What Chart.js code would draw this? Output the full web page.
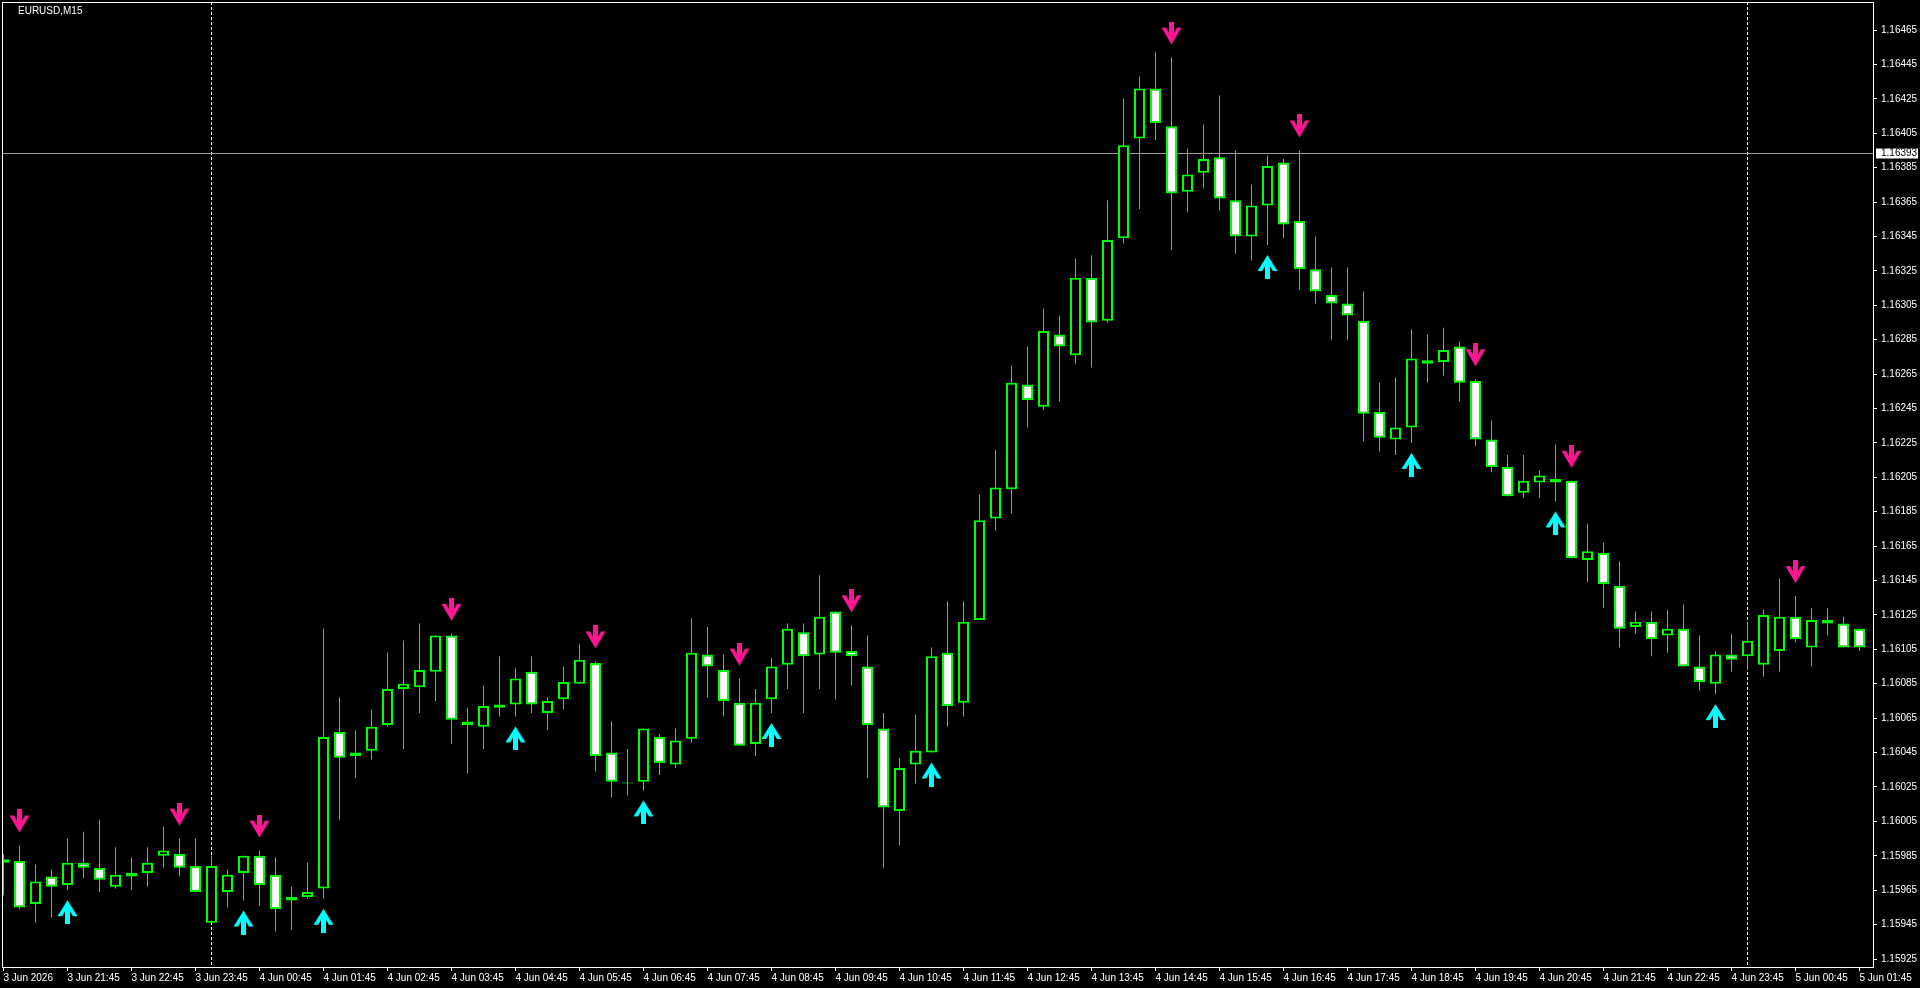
<!DOCTYPE html>
<html>
<head>
<meta charset="utf-8">
<title>EURUSD,M15</title>
<script src="https://cdn.jsdelivr.net/npm/chart.js@4.4.1/dist/chart.umd.min.js"></script>
<style>
  html, body { margin: 0; padding: 0; background: #000; overflow: hidden; }
  canvas { display: block; }
</style>
</head>
<body>
<canvas id="chart" width="1920" height="988"></canvas>
<script>
var symbolTitle = 'EURUSD,M15';

// 15 minute bars, 3 Jun 20:45 .. 5 Jun 01:45
var opens = [
    1.15981, 1.15982, 1.15957, 1.15973, 1.15968, 1.15981, 1.15978, 1.15967, 1.15973, 1.15975,
    1.15985, 1.15986, 1.15979, 1.15946, 1.15964, 1.15975, 1.15985, 1.15974, 1.15961, 1.15961,
    1.15966, 1.16057, 1.16043, 1.16046, 1.16061, 1.16082, 1.16083, 1.16092, 1.16113, 1.16063,
    1.16060, 1.16071, 1.16073, 1.16092, 1.16068, 1.16076, 1.16085, 1.16097, 1.16045, 1.16027,
    1.16028, 1.16054, 1.16038, 1.16053, 1.16102, 1.16093, 1.16074, 1.16050, 1.16076, 1.16096,
    1.16115, 1.16102, 1.16127, 1.16104, 1.16095, 1.16059, 1.16011, 1.16038, 1.16045, 1.16103,
    1.16074, 1.16122, 1.16181, 1.16198, 1.16259, 1.16246, 1.16288, 1.16276, 1.16321, 1.16296,
    1.16344, 1.16402, 1.16431, 1.16409, 1.16371, 1.16382, 1.16391, 1.16366, 1.16345, 1.16363,
    1.16388, 1.16354, 1.16326, 1.16311, 1.16306, 1.16296, 1.16243, 1.16227, 1.16234, 1.16273,
    1.16272, 1.16281, 1.16261, 1.16227, 1.16211, 1.16196, 1.16202, 1.16204, 1.16203, 1.16157,
    1.16161, 1.16142, 1.16118, 1.16121, 1.16113, 1.16117, 1.16095, 1.16085, 1.16102, 1.16101,
    1.16096, 1.16104, 1.16124, 1.16106, 1.16122, 1.16120, 1.16117
];
var highs = [
    1.15986, 1.15991, 1.15980, 1.15977, 1.15995, 1.15999, 1.16006, 1.15990, 1.15984, 1.15990,
    1.16002, 1.15995, 1.15995, 1.15985, 1.15977, 1.15985, 1.15988, 1.15984, 1.15967, 1.15981,
    1.16117, 1.16077, 1.16058, 1.16070, 1.16103, 1.16110, 1.16120, 1.16113, 1.16114, 1.16071,
    1.16084, 1.16101, 1.16094, 1.16101, 1.16077, 1.16095, 1.16108, 1.16098, 1.16063, 1.16047,
    1.16059, 1.16056, 1.16059, 1.16123, 1.16118, 1.16102, 1.16088, 1.16082, 1.16100, 1.16120,
    1.16120, 1.16148, 1.16127, 1.16119, 1.16113, 1.16068, 1.16042, 1.16067, 1.16106, 1.16133,
    1.16133, 1.16195, 1.16221, 1.16270, 1.16281, 1.16303, 1.16299, 1.16332, 1.16334, 1.16366,
    1.16425, 1.16438, 1.16452, 1.16449, 1.16396, 1.16410, 1.16427, 1.16395, 1.16375, 1.16392,
    1.16390, 1.16395, 1.16345, 1.16327, 1.16327, 1.16313, 1.16260, 1.16263, 1.16291, 1.16288,
    1.16292, 1.16284, 1.16262, 1.16238, 1.16218, 1.16218, 1.16209, 1.16224, 1.16203, 1.16178,
    1.16167, 1.16156, 1.16127, 1.16127, 1.16128, 1.16131, 1.16113, 1.16104, 1.16114, 1.16121,
    1.16128, 1.16146, 1.16136, 1.16129, 1.16129, 1.16124, 1.16117
];
var lows = [
    1.15962, 1.15954, 1.15946, 1.15949, 1.15965, 1.15972, 1.15964, 1.15966, 1.15965, 1.15967,
    1.15978, 1.15973, 1.15964, 1.15946, 1.15955, 1.15959, 1.15956, 1.15941, 1.15942, 1.15960,
    1.15960, 1.16006, 1.16030, 1.16041, 1.16060, 1.16047, 1.16068, 1.16075, 1.16050, 1.16033,
    1.16047, 1.16066, 1.16066, 1.16068, 1.16058, 1.16070, 1.16085, 1.16034, 1.16019, 1.16020,
    1.16023, 1.16032, 1.16036, 1.16051, 1.16077, 1.16066, 1.16049, 1.16043, 1.16068, 1.16082,
    1.16068, 1.16082, 1.16076, 1.16084, 1.16030, 1.15978, 1.15991, 1.16027, 1.16045, 1.16060,
    1.16066, 1.16122, 1.16174, 1.16184, 1.16234, 1.16244, 1.16249, 1.16271, 1.16269, 1.16295,
    1.16341, 1.16361, 1.16401, 1.16337, 1.16359, 1.16373, 1.16360, 1.16335, 1.16331, 1.16340,
    1.16344, 1.16314, 1.16306, 1.16285, 1.16285, 1.16226, 1.16220, 1.16218, 1.16225, 1.16260,
    1.16264, 1.16249, 1.16223, 1.16208, 1.16194, 1.16193, 1.16193, 1.16191, 1.16158, 1.16144,
    1.16129, 1.16106, 1.16114, 1.16101, 1.16103, 1.16095, 1.16081, 1.16079, 1.16092, 1.16093,
    1.16089, 1.16092, 1.16109, 1.16095, 1.16113, 1.16106, 1.16104
];
var closes = [
    1.15983, 1.15955, 1.15970, 1.15967, 1.15981, 1.15978, 1.15971, 1.15974, 1.15975, 1.15981,
    1.15988, 1.15978, 1.15964, 1.15979, 1.15974, 1.15985, 1.15968, 1.15954, 1.15959, 1.15964,
    1.16054, 1.16042, 1.16045, 1.16060, 1.16082, 1.16085, 1.16093, 1.16113, 1.16064, 1.16061,
    1.16072, 1.16073, 1.16088, 1.16073, 1.16075, 1.16086, 1.16099, 1.16043, 1.16028, 1.16027,
    1.16059, 1.16039, 1.16052, 1.16103, 1.16095, 1.16075, 1.16049, 1.16074, 1.16095, 1.16117,
    1.16101, 1.16124, 1.16103, 1.16101, 1.16061, 1.16013, 1.16036, 1.16046, 1.16101, 1.16072,
    1.16121, 1.16180, 1.16199, 1.16260, 1.16250, 1.16290, 1.16281, 1.16321, 1.16295, 1.16343,
    1.16398, 1.16431, 1.16411, 1.16370, 1.16381, 1.16390, 1.16367, 1.16345, 1.16363, 1.16386,
    1.16352, 1.16326, 1.16313, 1.16306, 1.16299, 1.16242, 1.16228, 1.16234, 1.16274, 1.16271,
    1.16279, 1.16260, 1.16227, 1.16211, 1.16194, 1.16203, 1.16206, 1.16202, 1.16158, 1.16162,
    1.16143, 1.16117, 1.16121, 1.16111, 1.16117, 1.16095, 1.16086, 1.16102, 1.16099, 1.16110,
    1.16125, 1.16124, 1.16111, 1.16122, 1.16120, 1.16106, 1.16106
];

// indicator signals (bar indexes)
var sellSignals = [1, 11, 16, 28, 37, 46, 53, 73, 81, 92, 98, 112];
var buySignals = [4, 15, 20, 32, 40, 48, 58, 79, 88, 97, 107];

// first bar of each new day
var daySeparators = [13, 109];
var bidPrice = 1.16393;

var barsPerLabel = 4;
var timeLabels = [
    '3 Jun 2026', '3 Jun 21:45', '3 Jun 22:45', '3 Jun 23:45',
    '4 Jun 00:45', '4 Jun 01:45', '4 Jun 02:45', '4 Jun 03:45', '4 Jun 04:45', '4 Jun 05:45',
    '4 Jun 06:45', '4 Jun 07:45', '4 Jun 08:45', '4 Jun 09:45', '4 Jun 10:45', '4 Jun 11:45',
    '4 Jun 12:45', '4 Jun 13:45', '4 Jun 14:45', '4 Jun 15:45', '4 Jun 16:45', '4 Jun 17:45',
    '4 Jun 18:45', '4 Jun 19:45', '4 Jun 20:45', '4 Jun 21:45', '4 Jun 22:45', '4 Jun 23:45',
    '5 Jun 00:45', '5 Jun 01:45'
];
var priceTicks = [
    1.15925, 1.15945, 1.15965, 1.15985, 1.16005, 1.16025, 1.16045, 1.16065, 1.16085, 1.16105,
    1.16125, 1.16145, 1.16165, 1.16185, 1.16205, 1.16225, 1.16245, 1.16265, 1.16285, 1.16305,
    1.16325, 1.16345, 1.16365, 1.16385, 1.16405, 1.16425, 1.16445, 1.16465
];

var barColor = '#00ff00';
var bullBody = '#000000';
var bearBody = '#ffffff';
var fontFamily = "'Liberation Sans', Arial, sans-serif";

// arrow glyph drawn into a small canvas, padded so it sits off the high/low
function makeArrow(color, down) {
    var c = document.createElement('canvas');
    c.width = 21;
    c.height = down ? 72 : 68;
    var g = c.getContext('2d');
    g.fillStyle = color;
    if (down) {
        g.fillRect(8, 0, 5, 17);
        g.beginPath();
        g.moveTo(0.5, 6);
        g.lineTo(5, 6);
        g.lineTo(10.5, 15.4);
        g.lineTo(16, 6);
        g.lineTo(20.5, 6);
        g.lineTo(10.5, 23);
        g.closePath();
        g.fill();
    } else {
        var t = 44;
        g.fillRect(8, t + 6, 5, 18);
        g.beginPath();
        g.moveTo(10.5, t);
        g.lineTo(20.5, t + 16);
        g.lineTo(16, t + 16);
        g.lineTo(10.5, t + 7.2);
        g.lineTo(5, t + 16);
        g.lineTo(0.5, t + 16);
        g.closePath();
        g.fill();
    }
    return c;
}

// keep the plot area where the terminal has it, no label overhang
function noOverhang(scale) {
    scale.paddingLeft = 0;
    scale.paddingRight = 0;
    scale.paddingTop = 0;
    scale.paddingBottom = 0;
}

var background = {
    id: 'background',
    beforeDraw: function(chart) {
        var ctx = chart.ctx;
        ctx.save();
        ctx.fillStyle = '#000000';
        ctx.fillRect(0, 0, chart.width, chart.height);
        ctx.restore();
    }
};

var terminalLines = {
    id: 'terminalLines',
    beforeDatasetsDraw: function(chart) {
        var ctx = chart.ctx;
        var area = chart.chartArea;
        var x = chart.scales.x;
        var y = chart.scales.y;
        ctx.save();
        ctx.lineWidth = 1;
        ctx.strokeStyle = '#ffffff';
        ctx.setLineDash([3, 2]);
        daySeparators.forEach(function(i) {
            var px = Math.floor(x.getPixelForValue(i)) + 0.5;
            ctx.beginPath();
            ctx.moveTo(px, area.top);
            ctx.lineTo(px, area.bottom);
            ctx.stroke();
        });
        ctx.setLineDash([]);
        var by = Math.floor(y.getPixelForValue(bidPrice)) + 0.5;
        ctx.strokeStyle = '#9a9a9a';
        ctx.beginPath();
        ctx.moveTo(area.left, by);
        ctx.lineTo(area.right, by);
        ctx.stroke();
        ctx.restore();
    },
    afterDraw: function(chart) {
        var ctx = chart.ctx;
        var area = chart.chartArea;
        var y = chart.scales.y;
        ctx.save();
        ctx.strokeStyle = '#ffffff';
        ctx.lineWidth = 1;
        ctx.strokeRect(area.left + 0.5, area.top + 0.5, area.right - area.left - 1, area.bottom - area.top - 1);

        var by = Math.floor(y.getPixelForValue(bidPrice)) + 0.5;
        ctx.fillStyle = '#ffffff';
        ctx.fillRect(area.right + 2, by - 5, 42, 10);
        ctx.fillStyle = '#000000';
        ctx.font = '10px ' + fontFamily;
        ctx.textBaseline = 'middle';
        ctx.textAlign = 'left';
        ctx.fillText(bidPrice.toFixed(5), area.right + 7, by);

        ctx.fillStyle = '#ffffff';
        ctx.fillText(symbolTitle, 18, 11);
        ctx.restore();
    }
};

var ctx = document.getElementById('chart').getContext('2d');
var chart = new Chart(ctx, {
    type: 'bar',
    data: {
        datasets: [{
            type: 'scatter',
            label: 'Sell',
            data: sellSignals.map(function(i) { return { x: i, y: highs[i] }; }),
            pointStyle: makeArrow('#ff1493', true),
            order: 0
        }, {
            type: 'scatter',
            label: 'Buy',
            data: buySignals.map(function(i) { return { x: i, y: lows[i] }; }),
            pointStyle: makeArrow('#00ffff', false),
            order: 0
        }, {
            label: 'Body',
            data: opens.map(function(o, i) { return { x: i, y: [o, closes[i]] }; }),
            backgroundColor: opens.map(function(o, i) { return closes[i] > o ? bullBody : bearBody; }),
            borderColor: barColor,
            borderWidth: 2,
            borderSkipped: false,
            grouped: false,
            maxBarThickness: 11,
            minBarLength: 1,
            inflateAmount: 0,
            order: 1
        }, {
            label: 'Wick',
            data: lows.map(function(l, i) { return { x: i, y: [l, highs[i]] }; }),
            backgroundColor: barColor,
            borderWidth: 0,
            grouped: false,
            maxBarThickness: 1,
            inflateAmount: 0,
            order: 2
        }]
    },
    options: {
        responsive: false,
        animation: false,
        devicePixelRatio: 1,
        events: [],
        layout: { autoPadding: false, padding: { left: 2, top: 2, right: 0, bottom: 0 } },
        plugins: {
            legend: { display: false },
            tooltip: { enabled: false }
        },
        scales: {
            x: {
                type: 'linear',
                offset: false,
                min: -0.09375,
                max: 116.90625,
                grid: { drawOnChartArea: false, drawTicks: true, tickLength: 3, tickColor: '#ffffff', offset: false },
                border: { display: false },
                afterBuildTicks: function(scale) {
                    scale.ticks = timeLabels.map(function(t, i) { return { value: i * barsPerLabel }; });
                },
                afterFit: function(scale) {
                    scale.height = 20;
                    noOverhang(scale);
                },
                ticks: {
                    autoSkip: false,
                    maxRotation: 0,
                    minRotation: 0,
                    align: 'start',
                    padding: 1,
                    color: '#ffffff',
                    font: { family: fontFamily, size: 10 },
                    callback: function(value, index) { return timeLabels[index]; }
                }
            },
            y: {
                type: 'linear',
                position: 'right',
                min: 1.1591977,
                max: 1.1648128,
                grid: { drawOnChartArea: false, drawTicks: true, tickLength: 3, tickColor: '#ffffff' },
                border: { display: false },
                afterBuildTicks: function(scale) {
                    scale.ticks = priceTicks.map(function(v) { return { value: v }; });
                },
                afterFit: function(scale) {
                    scale.width = 46;
                    noOverhang(scale);
                },
                ticks: {
                    padding: 4,
                    color: '#ffffff',
                    font: { family: fontFamily, size: 10 },
                    callback: function(value) { return value.toFixed(5); }
                }
            }
        }
    },
    plugins: [background, terminalLines]
});
</script>
</body>
</html>
